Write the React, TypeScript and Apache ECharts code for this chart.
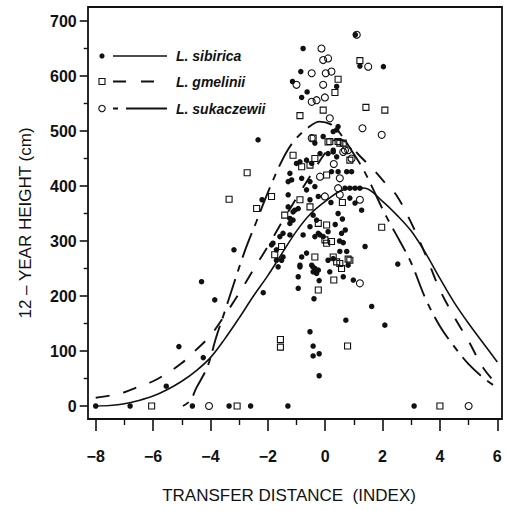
import React, { useEffect, useRef } from "react";
import * as echarts from "echarts";

// ---- axis ranges / ticks ----
const xMin = -8;
const xMax = 6;
const xInterval = 2;
const yMin = 0;
const yMax = 700;
const yInterval = 100;

const xTitle = "TRANSFER DISTANCE  (INDEX)";
const yTitle = "12 – YEAR HEIGHT (cm)";
const legendNames = ["L. sibirica", "L. gmelinii", "L. sukaczewii"];

// ---- observed points [transfer distance, height] ----
const sibiricaPoints: number[][] = [
  [-8, 0], [-6.8, 0], [-4.63, 0], [-3.35, 0], [-2.6, 0], [-1.3, 0], [3.1, 0],
  [-5.54, 36], [-5.1, 108], [-4.25, 88], [-4.31, 226], [-3.85, 193], [-3.18, 284],
  [-2.34, 484], [-2.2, 375], [-2.16, 206],
  [1.05, 675], [-0.77, 650], [-0.85, 608], [1.21, 618], [2.03, 617], [-0.63, 571],
  [-1.14, 590], [-0.82, 561], [0.4, 581], [0.4, 502], [0.45, 508], [0.28, 499],
  [-0.07, 490], [-0.36, 478], [0.1, 459], [0.28, 462], [-0.18, 459],
  [-1.0, 441], [-0.88, 444], [-0.65, 447], [-0.47, 441], [-1.23, 423], [-1.17, 411],
  [-1.29, 408], [-0.82, 414], [-0.53, 408], [-0.36, 399], [-0.65, 393], [-0.24, 381],
  [-0.53, 375], [-1.29, 384], [-1.29, 362], [-1.12, 353], [-1.06, 356], [-0.94, 359],
  [-1.23, 332], [-1.23, 341], [-1.12, 338], [-0.42, 347], [-0.3, 338], [-0.53, 326],
  [-0.24, 314], [-0.36, 308], [-1.47, 314], [-1.58, 308], [-1.23, 311], [-1.82, 296],
  [-1.87, 293], [-1.7, 284], [-1.7, 265], [-1.47, 271], [-1.64, 253], [-0.88, 253],
  [-0.65, 278], [-0.43, 253], [-0.77, 311], [-0.18, 311], [-0.07, 308], [0.57, 314],
  [0.1, 317], [-1.52, 265], [0.63, 297], [1.39, 290], [-0.82, 271], [-0.88, 256],
  [-0.94, 235], [-0.94, 214], [-0.47, 256], [-0.36, 250], [-0.42, 244], [-0.3, 241],
  [-0.24, 247], [-0.21, 228], [-0.39, 195], [0.1, 265], [0.28, 268], [0.51, 281],
  [0.75, 281], [0.8, 256], [0.63, 235], [0.16, 244], [0.98, 229], [1.62, 181],
  [0.72, 156], [-0.53, 135], [-0.42, 109], [-0.42, 91], [-0.21, 95], [-0.21, 55],
  [2.08, 147], [2.53, 258], [0.69, 396], [0.86, 396], [1.04, 396], [1.21, 396],
  [1.27, 356], [1.04, 369], [0.86, 378], [0.28, 465], [0.4, 453], [0.22, 426],
  [0.45, 426], [0.75, 426], [0.92, 426], [0.2, 370], [0.45, 350], [0.6, 340],
  [0.35, 330], [0.7, 320], [0.5, 300],
];

const gmeliniiPoints: number[][] = [
  [-6.05, 0], [-3.07, 0], [4.0, 0],
  [-3.35, 376], [-2.72, 424], [-2.39, 359], [-1.87, 381], [-1.56, 121], [-1.56, 107],
  [0.78, 109],
  [1.21, 628], [0.45, 594], [0.34, 570], [-0.07, 538], [-0.88, 528], [1.42, 543],
  [2.08, 538], [-0.42, 487], [0.1, 480], [0.51, 478], [-1.12, 456], [0.16, 481],
  [0.45, 481], [0.63, 478], [0.86, 447], [-0.36, 450], [-0.82, 435], [-0.53, 438],
  [0.05, 420], [-0.88, 375], [-0.53, 362], [-1.41, 347], [-0.24, 332], [0.05, 329],
  [-0.01, 302], [-1.52, 290], [-1.76, 275], [-0.36, 271], [0.05, 296], [0.22, 299],
  [0.28, 271], [0.4, 262], [0.51, 259], [0.57, 250], [0.8, 267], [0.3, 229],
  [-0.24, 211], [1.97, 325], [0.6, 370], [0.86, 265],
];

const sukaczewiiPoints: number[][] = [
  [-4.05, 0], [5.0, 0],
  [1.1, 675], [-0.13, 650], [-0.07, 629], [0.1, 632], [1.5, 617], [-0.47, 605],
  [0.02, 605], [0.22, 608], [-1.0, 584], [-0.07, 584], [-0.47, 553], [-0.3, 556],
  [-0.01, 561], [0.16, 523], [1.3, 505], [1.97, 493], [-0.47, 487], [0.69, 465],
  [0.8, 465], [0.92, 450], [0.63, 462], [0.51, 414], [-0.18, 417], [-0.01, 381],
  [0.45, 396], [0.51, 384], [1.21, 375], [1.21, 223], [0.3, 440],
];

// ---- fitted response curves ----
const sibiricaCurve: number[][] = [
  [-8, 0], [-7.5, 1], [-7, 4], [-6.5, 10], [-6, 18], [-5.5, 30], [-5, 45], [-4.5, 64],
  [-4, 88], [-3.5, 122], [-3, 160], [-2.5, 200], [-2, 237], [-1.5, 278], [-1, 318],
  [-0.5, 350], [0, 372], [0.5, 390], [1, 397], [1.4, 396], [2, 372], [2.5, 347],
  [3, 318], [3.5, 278], [4, 232], [4.5, 188], [5, 150], [5.5, 115], [6, 80],
];

const gmeliniiCurve: number[][] = [
  [-8, 15], [-7.5, 19], [-7, 25], [-6.5, 35], [-6, 45], [-5.5, 60], [-5, 78],
  [-4.5, 102], [-4, 128], [-3.5, 165], [-3, 205], [-2.5, 248], [-2, 290], [-1.5, 335],
  [-1, 378], [-0.5, 420], [0, 460], [0.4, 485], [0.8, 478], [1.2, 455], [1.7, 429],
  [2.1, 405], [2.5, 382], [3, 333], [3.5, 275], [4, 211], [4.5, 162], [5, 118],
  [5.5, 70], [6, 38],
];

const sukaczewiiCurve: number[][] = [
  [-4.96, 0], [-4.7, 10], [-4.5, 32], [-4.1, 72], [-3.8, 125], [-3.5, 172],
  [-3.2, 220], [-2.8, 282], [-2.4, 335], [-2, 388], [-1.6, 436], [-1.3, 466],
  [-1, 487], [-0.6, 506], [-0.2, 517], [0.2, 512], [0.5, 497], [1.0, 458],
  [1.33, 430], [1.6, 402], [2.0, 358], [2.3, 328], [2.6, 300], [3.0, 260],
  [3.5, 195], [4.0, 145], [4.5, 108], [5.0, 76], [5.5, 52], [6, 33],
];

const INK = "#111111";
const FONT = '"Liberation Sans", Arial, Helvetica, sans-serif';

const fmt = (v: number) => (v < 0 ? "\u2212" + Math.abs(v) : String(v));

export default function App() {
  const ref = useRef<HTMLDivElement>(null);

  useEffect(() => {
    if (!ref.current) return;
    const chart = echarts.init(ref.current, null, { renderer: "svg" });

    const legendY = [56, 81.5, 108.5];
    const graphic: any[] = [
      {
        type: "rect",
        shape: { x: 88, y: 7, width: 414, height: 412 },
        style: { fill: "none", stroke: INK, lineWidth: 1.8 },
        z: 10,
      },
      {
        type: "text",
        x: 289,
        y: 495,
        style: {
          text: xTitle,
          font: `17px ${FONT}`,
          fill: INK,
          textAlign: "center",
          textVerticalAlign: "middle",
        },
      },
      {
        type: "text",
        x: 25,
        y: 223,
        rotation: Math.PI / 2,
        style: {
          text: yTitle,
          font: `17px ${FONT}`,
          fill: INK,
          textAlign: "center",
          textVerticalAlign: "middle",
        },
      },
      // legend symbols
      { type: "circle", shape: { cx: 102, cy: legendY[0], r: 2.6 }, style: { fill: INK } },
      {
        type: "rect",
        shape: { x: 99, y: legendY[1] - 3, width: 6, height: 6 },
        style: { fill: "none", stroke: INK, lineWidth: 1.1 },
      },
      {
        type: "circle",
        shape: { cx: 102, cy: legendY[2], r: 3.2 },
        style: { fill: "none", stroke: INK, lineWidth: 1.1 },
      },
      // legend lines
      {
        type: "line",
        shape: { x1: 113, y1: legendY[0], x2: 167, y2: legendY[0] },
        style: { stroke: INK, lineWidth: 1.6 },
      },
      {
        type: "line",
        shape: { x1: 113, y1: legendY[1], x2: 167, y2: legendY[1] },
        style: { stroke: INK, lineWidth: 1.8, lineDash: [13, 15] },
      },
      {
        type: "line",
        shape: { x1: 113, y1: legendY[2], x2: 167, y2: legendY[2] },
        style: { stroke: INK, lineWidth: 1.8, lineDash: [5, 8, 41, 8] },
      },
    ];
    legendNames.forEach((name, i) => {
      graphic.push({
        type: "text",
        x: 176,
        y: legendY[i],
        style: {
          text: name,
          font: `italic bold 14px ${FONT}`,
          fill: INK,
          textAlign: "left",
          textVerticalAlign: "middle",
        },
      });
    });

    const lineBase = {
      type: "line",
      showSymbol: false,
      symbol: "none",
      smooth: 0.35,
      silent: true,
      z: 5,
    };

    chart.setOption({
      animation: false,
      grid: { left: 95.7, right: 9.7, top: 21, bottom: 105, containLabel: false },
      xAxis: {
        type: "value",
        min: xMin,
        max: xMax,
        interval: xInterval,
        offset: 13,
        axisLine: { show: false, onZero: false },
        axisTick: { show: true, length: 12, inside: false, lineStyle: { color: INK, width: 1.6 } },
        minorTick: { show: true, splitNumber: 2, length: 6, lineStyle: { color: INK, width: 1.4 } },
        splitLine: { show: false },
        minorSplitLine: { show: false },
        axisLabel: {
          margin: 29,
          color: INK,
          fontFamily: FONT,
          fontSize: 16,
          fontWeight: "bold",
          formatter: fmt,
        },
      },
      yAxis: {
        type: "value",
        min: yMin,
        max: yMax,
        interval: yInterval,
        offset: 8,
        axisLine: { show: false, onZero: false },
        axisTick: { show: true, length: 8, inside: false, lineStyle: { color: INK, width: 1.6 } },
        minorTick: { show: true, splitNumber: 2, length: 4, lineStyle: { color: INK, width: 1.4 } },
        splitLine: { show: false },
        minorSplitLine: { show: false },
        axisLabel: {
          margin: 11,
          color: INK,
          fontFamily: FONT,
          fontSize: 16,
          fontWeight: "bold",
        },
      },
      graphic,
      series: [
        {
          name: legendNames[0],
          type: "scatter",
          data: sibiricaPoints,
          symbol: "circle",
          symbolSize: 5.5,
          itemStyle: { color: INK, opacity: 1 },
          z: 3,
        },
        {
          name: legendNames[1],
          type: "scatter",
          data: gmeliniiPoints,
          symbol: "rect",
          symbolSize: 6,
          itemStyle: { color: "transparent", borderColor: INK, borderWidth: 1.1, opacity: 1 },
          z: 3,
        },
        {
          name: legendNames[2],
          type: "scatter",
          data: sukaczewiiPoints,
          symbol: "circle",
          symbolSize: 7,
          itemStyle: { color: "transparent", borderColor: INK, borderWidth: 1.1, opacity: 1 },
          z: 3,
        },
        {
          ...lineBase,
          name: legendNames[0] + " fit",
          data: sibiricaCurve,
          lineStyle: { color: INK, width: 1.6, type: "solid" },
        },
        {
          ...lineBase,
          name: legendNames[1] + " fit",
          data: gmeliniiCurve,
          lineStyle: { color: INK, width: 1.9, type: [14, 14] },
        },
        {
          ...lineBase,
          name: legendNames[2] + " fit",
          data: sukaczewiiCurve,
          lineStyle: { color: INK, width: 1.9, type: [7, 8, 26, 8] },
        },
      ],
    });

    return () => chart.dispose();
  }, []);

  return (
    <div
      ref={ref}
      style={{ position: "fixed", left: 0, top: 0, width: 507, height: 511, background: "#fff" }}
    />
  );
}
